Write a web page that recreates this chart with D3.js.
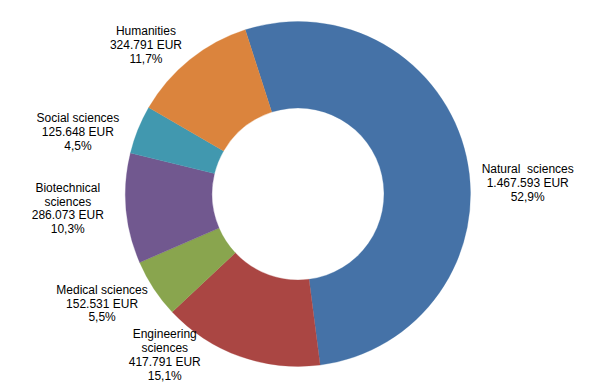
<!DOCTYPE html>
<html>
<head>
<meta charset="utf-8">
<script src="https://cdn.jsdelivr.net/npm/d3@7"></script>
<style>
  body { margin: 0; background: #fff; }
  svg { display: block; }
</style>
</head>
<body>
<svg width="600" height="385"></svg>
<script>
// funding by research field, drawn as a donut
const fields = ["Natural sciences", "Engineering sciences", "Medical sciences",
                "Biotechnical sciences", "Social sciences", "Humanities"];
const amounts = [1467593, 417791, 152531, 286073, 125648, 324791];
const amountLabels = ["1.467.593 EUR", "417.791 EUR", "152.531 EUR",
                      "286.073 EUR", "125.648 EUR", "324.791 EUR"];
const shareLabels = ["52,9%", "15,1%", "5,5%", "10,3%", "4,5%", "11,7%"];
// how the category names wrap in the labels
const nameLines = [["Natural  sciences"], ["Engineering", "sciences"], ["Medical sciences"],
                   ["Biotechnical", "sciences"], ["Social sciences"], ["Humanities"]];
const colors = ["#4572A7", "#AA4643", "#89A54E", "#71588F", "#4198AF", "#DB843D"];

function init() {
    const cx = 298, cy = 194;
    const outer = 172.5, inner = 86;
    const startAngle = -17.8 * Math.PI / 180;
    // label nudges away from the label arc centroid (Excel "best fit" placement)
    const nudge = [[15, 37], [-59, -46], [-12, -11], [-11, -4], [-16, 20], [-14, 22]];

    let svg = d3.select("svg");
    let chart = svg.append("g")
        .attr("transform", `translate(${cx}, ${cy})`);

    let pie = d3.pie()
        .sort(null)
        .value(d => d)
        .startAngle(startAngle)
        .endAngle(startAngle + 2 * Math.PI);

    let arc = d3.arc().innerRadius(inner).outerRadius(outer);
    let labelArc = d3.arc().innerRadius(220).outerRadius(220);

    let slices = pie(amounts);

    chart.selectAll("path")
        .data(slices)
        .enter()
        .append("path")
        .attr("d", arc)
        .attr("fill", (d, i) => colors[i])
        .attr("stroke", (d, i) => colors[i])
        .attr("stroke-width", 0.3);

    const lineH = 13.8;
    let labels = chart.selectAll("text.lbl")
        .data(slices)
        .enter()
        .append("text")
        .attr("class", "lbl")
        .attr("text-anchor", "middle")
        .attr("font-family", "'Liberation Sans', Arial, sans-serif")
        .attr("font-size", "12px")
        .attr("fill", "#000")
        .each(function(d, i) {
            let c = labelArc.centroid(d);
            let x = c[0] + nudge[i][0];
            let y = c[1] + nudge[i][1];
            let lines = nameLines[i].concat([amountLabels[i], shareLabels[i]]);
            let top = y - (lines.length - 1) * lineH / 2;
            let t = d3.select(this);
            lines.forEach((s, k) => {
                t.append("tspan")
                    .attr("x", x)
                    .attr("y", top + k * lineH)
                    .attr("dominant-baseline", "central")
                    .attr("xml:space", "preserve")
                    .text(s);
            });
        });
}

init();
</script>
</body>
</html>
